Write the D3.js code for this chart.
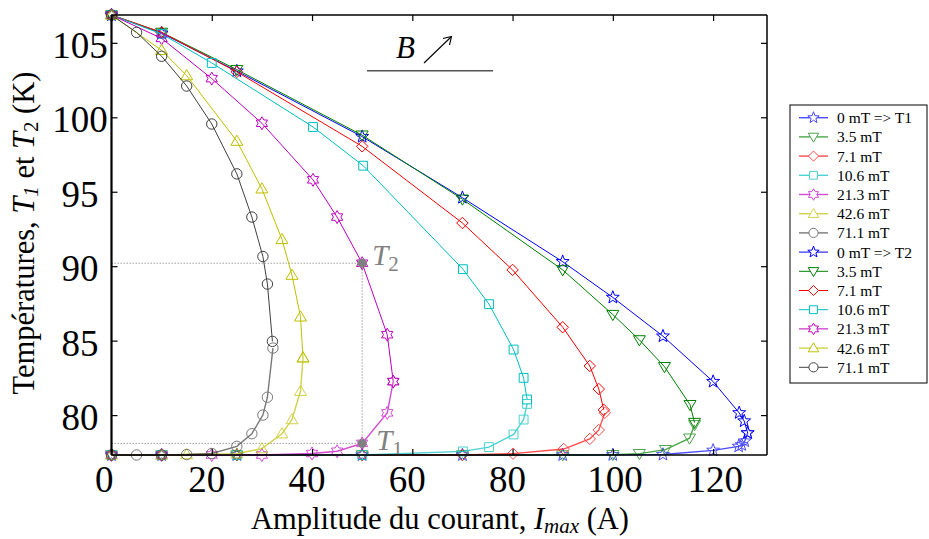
<!DOCTYPE html>
<html><head><meta charset="utf-8">
<script src="https://cdn.jsdelivr.net/npm/d3@7"></script>
<style>body{margin:0;background:#fff;} svg{display:block;font-family:"Liberation Serif","Times New Roman",serif;}</style>
</head><body><svg id="c" width="929" height="539"></svg>
<script>
// ---- data ----
const fieldLabels = ["0 mT", "3.5 mT", "7.1 mT", "10.6 mT", "21.3 mT", "42.6 mT", "71.1 mT"];
const colors = ["#0000ff", "#008000", "#ff0000", "#00bfbf", "#bf00bf", "#bfbf00", "#404040"];
const markers = ["star", "triDown", "diamond", "square", "hexagram", "triUp", "circle"];

// T2 (upper branch), current I (A) and temperature (K)
const I_T2_00 = [0, 10, 25, 50, 70, 90, 100, 110, 120, 125.2, 126.2, 126.9];
const T2_00   = [106.87, 105.65, 103.1, 98.7, 94.6, 90.3, 87.9, 85.3, 82.25, 80.15, 79.6, 78.8];
const I_T2_35 = [0, 10, 25, 50, 70, 90, 100, 105.3, 110.3, 115.4, 116.3];
const T2_35   = [106.87, 105.7, 103.2, 98.8, 94.5, 89.75, 86.75, 85.05, 83.25, 80.7, 79.5];
const I_T2_71 = [0, 10, 25, 50, 70, 80, 90, 95.4, 97.2, 98.2];
const T2_71   = [106.87, 105.7, 103.05, 98.05, 92.9, 89.75, 85.9, 83.3, 81.75, 80.35];
const I_T2_106 = [0, 10, 20, 40.2, 50.2, 70.1, 75.3, 80.2, 82.2, 82.9];
const T2_106   = [106.87, 105.6, 103.65, 99.35, 96.75, 89.8, 87.45, 84.4, 82.5, 81.05];
const I_T2_213 = [0, 10, 20, 30, 40.2, 45, 50, 55, 56.2];
const T2_213   = [106.87, 105.3, 102.6, 99.6, 95.8, 93.3, 90.2, 85.4, 82.25];
const I_T2_426 = [0, 10, 15, 25, 30, 34, 36, 37.7, 38.2];
const T2_426   = [106.87, 104.5, 102.8, 98.4, 95.2, 91.8, 89.4, 86.6, 83.85];
const I_T2_711 = [0, 5, 10, 15, 20, 25, 28, 30.2, 31.1, 32.1];
const T2_711   = [106.87, 105.7, 104.1, 102.1, 99.55, 96.2, 93.3, 90.65, 88.8, 84.95];

// T1 (lower branch)
const I_T1_00 = [0, 10, 25, 50, 70, 90, 100, 110, 120, 125.1, 125.7, 126.3, 126.9];
const T1_00   = [77.32, 77.32, 77.32, 77.32, 77.32, 77.32, 77.33, 77.35, 77.63, 77.9, 78.0, 78.25, 78.8];
const I_T1_35 = [0, 10, 25, 50, 70, 90, 100, 105.3, 110.5, 115.3, 116.3];
const T1_35   = [77.32, 77.32, 77.32, 77.32, 77.32, 77.32, 77.34, 77.41, 77.68, 78.45, 79.35];
const I_T1_71 = [0, 10, 25, 50, 70, 80.1, 90.2, 95.4, 97.2, 98.4];
const T1_71   = [77.32, 77.32, 77.32, 77.32, 77.33, 77.41, 77.72, 78.4, 79.0, 80.15];
const I_T1_106 = [0, 10, 25, 50, 70.1, 75.3, 80.2, 82.2, 82.9];
const T1_106   = [77.32, 77.32, 77.32, 77.32, 77.56, 77.85, 78.7, 79.7, 80.75];
const I_T1_213 = [0, 10, 20, 30, 40, 45, 50, 55, 56.2];
const T1_213   = [77.32, 77.32, 77.32, 77.32, 77.42, 77.57, 78.1, 80.15, 82.25];
const I_T1_426 = [0, 10, 15, 25, 30, 34, 36, 37.7, 38.2];
const T1_426   = [77.32, 77.32, 77.35, 77.4, 77.75, 78.75, 79.7, 81.6, 83.85];
const I_T1_711 = [0, 5, 10, 15, 20, 25, 28, 30.2, 31.1, 32.2];
const T1_711   = [77.32, 77.32, 77.32, 77.35, 77.42, 77.9, 78.75, 80.0, 81.2, 84.5];

const xTicks = [0, 20, 40, 60, 80, 100, 120];
const yTicks = [80, 85, 90, 95, 100, 105];
const guideI = 50;
const guideT = [78.1, 90.2];

// ---- build ----
const T2sets = [[I_T2_00,T2_00],[I_T2_35,T2_35],[I_T2_71,T2_71],[I_T2_106,T2_106],[I_T2_213,T2_213],[I_T2_426,T2_426],[I_T2_711,T2_711]];
const T1sets = [[I_T1_00,T1_00],[I_T1_35,T1_35],[I_T1_71,T1_71],[I_T1_106,T1_106],[I_T1_213,T1_213],[I_T1_426,T1_426],[I_T1_711,T1_711]];

const L = 111.5, R = 767, Tp = 15, B = 455;
const x = d3.scaleLinear().domain([0, 130.75]).range([L, R]);
const y = d3.scaleLinear().domain([77.32, 106.87]).range([B, Tp]);
const svg = d3.select("#c");

function markerPath(type, s) {
  if (type === "circle") { return d3.symbol(d3.symbolCircle, Math.PI*s*s)(); }
  if (type === "square") { const h = s*0.85; return `M${-h},${-h}L${h},${-h}L${h},${h}L${-h},${h}Z`; }
  if (type === "diamond") { const h = s*1.1; return `M0,${-h}L${h},0L0,${h}L${-h},0Z`; }
  if (type === "triUp" || type === "triDown") {
    const h = s*1.15, sg = type === "triUp" ? 1 : -1;
    return `M0,${-sg*h}L${h*1.0},${sg*h*0.7}L${-h*1.0},${sg*h*0.7}Z`;
  }
  if (type === "star") {
    const ro = s*1.3, ri = ro*0.42; let d = "";
    for (let i = 0; i < 10; i++) { const r = i%2 ? ri : ro, a = -Math.PI/2 + i*Math.PI/5;
      d += (i ? "L" : "M") + (r*Math.cos(a)).toFixed(2) + "," + (r*Math.sin(a)).toFixed(2); }
    return d + "Z";
  }
  if (type === "hexagram") {
    const ro = s*1.25, ri = ro*0.577; let d = "";
    for (let i = 0; i < 12; i++) { const r = i%2 ? ri : ro, a = -Math.PI/2 + i*Math.PI/6;
      d += (i ? "L" : "M") + (r*Math.cos(a)).toFixed(2) + "," + (r*Math.sin(a)).toFixed(2); }
    return d + "Z";
  }
}

const line = d3.line().x(d => x(d[0])).y(d => y(d[1]));
function drawSeries(sets, opacity, width) {
  sets.forEach((s, k) => {
    const pts = s[0].map((v, i) => [v, s[1][i]]);
    const g = svg.append("g").attr("opacity", opacity);
    g.append("path").attr("d", line(pts)).attr("fill", "none").attr("stroke", colors[k]).attr("stroke-width", width);
    g.selectAll("path.m").data(pts).enter().append("path").attr("class", "m")
      .attr("d", markerPath(markers[k], 5.2))
      .attr("transform", d => `translate(${x(d[0])},${y(d[1])})`)
      .attr("fill", "none").attr("stroke", colors[k]).attr("stroke-width", 1);
  });
}

// guides
const gcol = "#888";
svg.append("line").attr("x1", L).attr("x2", x(guideI)).attr("y1", y(guideT[1])).attr("y2", y(guideT[1]))
  .attr("stroke", gcol).attr("stroke-width", 0.8).attr("stroke-dasharray", "1.5,1.5");
svg.append("line").attr("x1", L).attr("x2", x(guideI)).attr("y1", y(guideT[0])).attr("y2", y(guideT[0]))
  .attr("stroke", gcol).attr("stroke-width", 0.8).attr("stroke-dasharray", "1.5,1.5");
svg.append("line").attr("x1", x(guideI)).attr("x2", x(guideI)).attr("y1", y(guideT[1])).attr("y2", y(guideT[0]))
  .attr("stroke", gcol).attr("stroke-width", 0.8).attr("stroke-dasharray", "1.5,1.5");

drawSeries(T1sets, 0.7, 1.4);
drawSeries(T2sets, 1, 1);

guideT.forEach(t => svg.append("circle").attr("cx", x(guideI)).attr("cy", y(t)).attr("r", 4.5).attr("fill", "#808080"));

// T labels
function tLabel(px, py, sub) {
  const t = svg.append("text").attr("x", px).attr("y", py).attr("fill", "#808080").attr("font-size", 29);
  t.append("tspan").attr("font-style", "italic").text("T");
  t.append("tspan").attr("font-size", 21).attr("dy", 6).text(sub);
}
tLabel(x(guideI) + 10, y(guideT[1]) + 2, "2");
tLabel(x(guideI) + 14, y(guideT[0]) + 7, "1");

// B annotation
svg.append("text").attr("x", 396).attr("y", 58).attr("font-size", 31).attr("font-style", "italic").text("B");
svg.append("line").attr("x1", 424).attr("y1", 63).attr("x2", 451).attr("y2", 37).attr("stroke", "#000").attr("stroke-width", 1.1);
svg.append("path").attr("d", "M443,38.5L451.5,36.5L449.5,45").attr("fill", "none").attr("stroke", "#000").attr("stroke-width", 1.1);
svg.append("line").attr("x1", 367).attr("x2", 493).attr("y1", 70.7).attr("y2", 70.7).attr("stroke", "#555").attr("stroke-width", 1.5);

// axes frame
svg.append("line").attr("x1", L).attr("x2", R).attr("y1", Tp).attr("y2", Tp).attr("stroke", "#000").attr("stroke-width", 1.5);
svg.append("line").attr("x1", R).attr("x2", R).attr("y1", Tp).attr("y2", B).attr("stroke", "#000").attr("stroke-width", 1.5);
svg.append("line").attr("x1", L).attr("x2", R).attr("y1", B).attr("y2", B).attr("stroke", "#000").attr("stroke-width", 1.5);
svg.append("line").attr("x1", L).attr("x2", L).attr("y1", Tp).attr("y2", B).attr("stroke", "#000").attr("stroke-width", 2.2);

const ax = svg.append("g").attr("transform", `translate(0,${B})`)
  .call(d3.axisBottom(x).tickValues(xTicks).tickSize(-6).tickFormat(d3.format("d")));
const axT = svg.append("g").attr("transform", `translate(0,${Tp})`)
  .call(d3.axisTop(x).tickValues(xTicks).tickSize(-6).tickFormat(""));
const ay = svg.append("g").attr("transform", `translate(${L},0)`)
  .call(d3.axisLeft(y).tickValues(yTicks).tickSize(-6).tickFormat(d3.format("d")));
const ayR = svg.append("g").attr("transform", `translate(${R},0)`)
  .call(d3.axisRight(y).tickValues(yTicks).tickSize(-6).tickFormat(""));
[ax, axT, ay, ayR].forEach(g => { g.attr("font-family", null); g.select(".domain").remove(); g.selectAll(".tick line").attr("stroke", "#000").attr("stroke-width", 1.2); });
ax.selectAll(".tick text").attr("font-size", 37).attr("fill", "#000")
  .attr("text-anchor", "start").attr("y", 37).attr("dy", 0)
  .attr("x", d => { const n = String(d).length; return n === 1 ? -17 : (n === 2 ? -24 : -26); });
ay.selectAll(".tick text").attr("font-size", 37).attr("fill", "#000")
  .attr("text-anchor", "middle").attr("x", 80 - L).attr("dy", 0).attr("y", 14.5);

// axis titles
const xt = svg.append("text").attr("x", 440).attr("y", 529).attr("text-anchor", "middle").attr("font-size", 30.5);
xt.append("tspan").text("Amplitude du courant, ");
xt.append("tspan").attr("font-style", "italic").text("I");
xt.append("tspan").attr("font-style", "italic").attr("font-size", 21).attr("dy", 4).text("max");
xt.append("tspan").attr("dy", -4).text(" (A)");

const yt = svg.append("text").attr("transform", "translate(34,233) rotate(-90)").attr("text-anchor", "middle").attr("font-size", 30.5);
yt.append("tspan").text("Températures, ");
yt.append("tspan").attr("font-style", "italic").text("T");
yt.append("tspan").attr("font-style", "italic").attr("font-size", 21).attr("dy", 4).text("1");
yt.append("tspan").attr("dy", -4).text(" et ");
yt.append("tspan").attr("font-style", "italic").text("T");
yt.append("tspan").attr("font-size", 21).attr("dy", 4).text("2");
yt.append("tspan").attr("dy", -4).text(" (K)");

// legend
const lg = svg.append("g");
lg.append("rect").attr("x", 790).attr("y", 105).attr("width", 137).attr("height", 278)
  .attr("fill", "#fff").attr("stroke", "#000").attr("stroke-width", 1);
const legendItems = [];
fieldLabels.forEach((f, k) => legendItems.push({ label: k === 0 ? f + " => T1" : f, k, op: 0.7, w: 1.4 }));
fieldLabels.forEach((f, k) => legendItems.push({ label: k === 0 ? f + " => T2" : f, k, op: 1, w: 1 }));
legendItems.forEach((it, i) => {
  const yy = 117.7 + i * 19.2;
  const g = lg.append("g").attr("opacity", it.op);
  g.append("line").attr("x1", 799).attr("x2", 828).attr("y1", yy).attr("y2", yy).attr("stroke", colors[it.k]).attr("stroke-width", it.w);
  g.append("path").attr("d", markerPath(markers[it.k], 4.6)).attr("transform", `translate(813.5,${yy})`)
    .attr("fill", "#fff").attr("stroke", colors[it.k]).attr("stroke-width", 1);
  lg.append("text").attr("x", 837).attr("y", yy + 5.5).attr("font-size", 15.5).text(it.label);
});
</script></body></html>
